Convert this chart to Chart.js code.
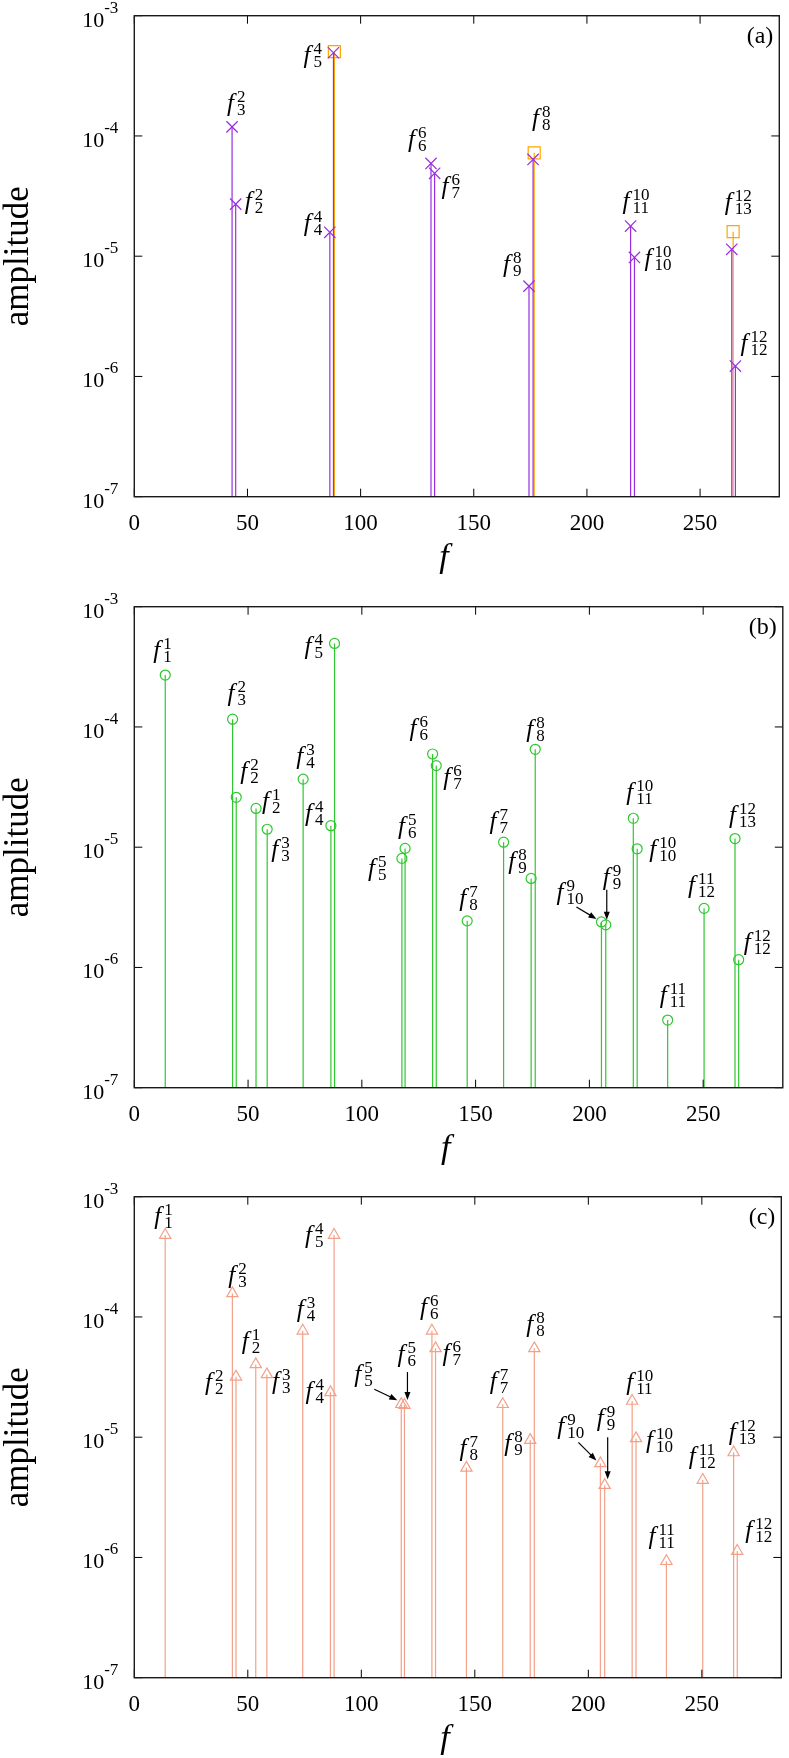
<!DOCTYPE html>
<html>
<head>
<meta charset="utf-8">
<script src="https://cdn.jsdelivr.net/npm/chart.js@4.4.1/dist/chart.umd.min.js"></script>
<style>
  body { margin: 0; background: #fff; }
  #wrap { position: relative; width: 789px; height: 1758px; }
  #wrap canvas { position: absolute; left: 0; }
</style>
</head>
<body>
<div id="wrap">
  <canvas id="graph1" width="789" height="577" style="top:0px"></canvas>
  <canvas id="graph2" width="789" height="577" style="top:591px"></canvas>
  <canvas id="graph3" width="789" height="577" style="top:1181px"></canvas>
</div>
<script>
// modes f_sub^sup, same order in every panel
const modeSub = [1, 3, 2, 2, 3, 4, 4, 5, 5, 6, 6, 7, 8, 7, 9, 8, 10, 9, 11, 10, 11, 12, 13, 12];
const modeSup = [1, 2, 2, 1, 3, 3, 4, 4, 5, 5, 6, 6, 7, 7, 8, 8, 9, 9, 10, 10, 11, 11, 12, 12];
const freqs = [13.6, 43.2, 44.8, 53.5, 58.4, 74.2, 86.4, 88.0, 117.6, 119.0, 131.1, 132.7,
               146.3, 162.3, 174.4, 176.2, 205.3, 207.2, 219.3, 221.0, 234.4, 250.4, 264.0, 265.6];

// (a) crosses (null = mode not there)
const ampA = [null, 1.19e-4, 2.71e-5, null, null, null, 1.58e-5, 4.92e-4, null, null, 5.91e-5, 4.89e-5,
              null, null, 5.64e-6, 6.38e-5, null, null, 1.78e-5, 9.77e-6, null, null, 1.14e-5, 1.22e-6];
// (a) squares
const sqFreqs = [88.4, 176.7, 264.6];
const sqAmp = [5.02e-4, 7.24e-5, 1.60e-5];
// (b) circles
const ampB = [2.70e-4, 1.16e-4, 2.60e-5, 2.10e-5, 1.41e-5, 3.68e-5, 1.51e-5, 4.95e-4, 8.07e-6, 9.77e-6, 5.96e-5, 4.77e-5,
              2.44e-6, 1.10e-5, 5.50e-6, 6.52e-5, 2.39e-6, 2.26e-6, 1.74e-5, 9.70e-6, 3.65e-7, 3.10e-6, 1.18e-5, 1.16e-6];
// (c) triangles
const ampC = [4.80e-4, 1.57e-4, 3.18e-5, 4.03e-5, 3.33e-5, 7.67e-5, 2.36e-5, 4.80e-4, 1.88e-5, 1.85e-5, 7.67e-5, 5.48e-5,
              5.56e-6, 1.88e-5, 9.46e-6, 5.48e-5, 6.05e-6, 3.99e-6, 2.00e-5, 9.77e-6, 9.3e-7, 4.40e-6, 7.46e-6, 1.13e-6];

const xTicks = [0, 50, 100, 150, 200, 250];
const yTicks = [1e-7, 1e-6, 1e-5, 1e-4, 1e-3];

// label offsets from the marker, px (left of f, baseline of f)
const offsA = {1: [-5, -16], 2: [9, 5], 6: [-26, -1], 7: [-30, 10], 10: [-23, -16], 11: [7, 21],
               14: [-26, -14], 15: [-1, -33], 18: [-8, -17], 19: [10, 9], 22: [-7, -39], 23: [5, -15]};
const offsB = {0: [-12, -17], 1: [-5, -18], 2: [4, -18], 3: [6, 1], 4: [4, 28], 5: [-7, -15], 6: [-26, -5],
               7: [-30, 11], 8: [-34, 18], 9: [-7, -14], 10: [-23, -18], 11: [7, 19], 12: [-8, -15],
               13: [-14, -13], 14: [-23, -9], 15: [-9, -12], 16: [-45, -22], 17: [-3, -40], 18: [-7, -18],
               19: [12, 8], 20: [-8, -17], 21: [-16, -15], 22: [-6, -16], 23: [5, -10]};
const offsC = {0: [-11, -11], 1: [-4, -10], 2: [-31, 13], 3: [-14, -15], 4: [5, 15], 5: [-6, -14], 6: [-25, 7],
               7: [-29, 8], 8: [-47, -22], 9: [-7, -43], 10: [-12, -16], 11: [7, 13], 12: [-7, -12],
               13: [-13, -15], 14: [-26, 11], 15: [-8, -16], 16: [-43, -29], 17: [-8, -59], 18: [-6, -11],
               19: [10, 10], 20: [-18, -17], 21: [-14, -16], 22: [-5, -13], 23: [8, -13]};
// arrows: [start offset, end offset] from marker
const arrowsB = {16: [[-25, -15], [-5, -3]], 17: [[1, -35], [1, -5]]};
const arrowsC = {8: [[-27, -15], [-4, -4]], 9: [[3, -33], [3, -5]], 16: [[-22, -21], [-4, -3]], 17: [[3, -48], [3, -6]]};

const serif = '"Liberation Serif", "Times New Roman", serif';

function impulses(xs, ys) {
    const out = [];
    xs.forEach((x, i) => {
        if (ys[i] == null) return;
        out.push({x: x, y: yTicks[0]}, {x: x, y: ys[i]}, {x: x, y: null});
    });
    return out;
}
function points(xs, ys) {
    const out = [];
    xs.forEach((x, i) => { if (ys[i] != null) out.push({x: x, y: ys[i]}); });
    return out;
}

const framePlugin = {
    id: 'frame',
    afterDatasetsDraw(chart, args, opts) {
        const ctx = chart.ctx;
        const a = chart.chartArea;
        const xs = chart.scales.x, ys = chart.scales.y;
        ctx.save();
        ctx.strokeStyle = '#000';
        ctx.lineWidth = 1;
        ctx.beginPath();
        xTicks.forEach(v => {
            const px = xs.getPixelForValue(v);
            ctx.moveTo(px, a.bottom); ctx.lineTo(px, a.bottom - 8);
            ctx.moveTo(px, a.top); ctx.lineTo(px, a.top + 8);
        });
        yTicks.forEach(v => {
            const py = ys.getPixelForValue(v);
            ctx.moveTo(a.left, py); ctx.lineTo(a.left + 8, py);
            ctx.moveTo(a.right, py); ctx.lineTo(a.right - 8, py);
        });
        ctx.stroke();
        ctx.lineWidth = 1.4;
        ctx.strokeStyle = '#1a1a1a';
        ctx.strokeRect(a.left, a.top, a.right - a.left, a.bottom - a.top);

        // y tick labels 10^n
        ctx.fillStyle = '#000';
        ctx.textBaseline = 'alphabetic';
        yTicks.forEach(v => {
            const py = ys.getPixelForValue(v);
            const ex = String(Math.round(Math.log10(v)));
            ctx.font = '17px ' + serif;
            const we = ctx.measureText(ex).width;
            const rx = a.left - 16;
            ctx.textAlign = 'right';
            ctx.fillText(ex, rx, py - 3);
            ctx.font = '22px ' + serif;
            ctx.fillText('10', rx - we, py + 11);
        });

        // panel letter
        ctx.font = '24px ' + serif;
        ctx.textAlign = 'right';
        ctx.fillText(opts.letter, a.right - 6, a.top + 27);
        ctx.restore();
    },
    afterDraw(chart, args, opts) {
        const ctx = chart.ctx;
        const xs = chart.scales.x, ys = chart.scales.y;
        ctx.save();
        ctx.fillStyle = '#000';
        ctx.strokeStyle = '#000';
        ctx.textBaseline = 'alphabetic';
        ctx.textAlign = 'left';
        Object.keys(opts.offs).forEach(k => {
            const i = +k;
            const px = xs.getPixelForValue(freqs[i]);
            const py = ys.getPixelForValue(opts.amps[i]);
            const [dx, dy] = opts.offs[k];
            const lx = px + dx, by = py + dy;
            ctx.font = 'italic 25px ' + serif;
            ctx.fillText('f', lx, by);
            ctx.font = '17px ' + serif;
            ctx.fillText(String(modeSup[i]), lx + 10, by - 9);
            ctx.fillText(String(modeSub[i]), lx + 10, by + 4);
        });
        Object.keys(opts.arrows).forEach(k => {
            const i = +k;
            const px = xs.getPixelForValue(freqs[i]);
            const py = ys.getPixelForValue(opts.amps[i]);
            const [s, e] = opts.arrows[k];
            const x0 = px + s[0], y0 = py + s[1], x1 = px + e[0], y1 = py + e[1];
            const ang = Math.atan2(y1 - y0, x1 - x0);
            ctx.lineWidth = 1.2;
            ctx.beginPath();
            ctx.moveTo(x0, y0);
            ctx.lineTo(x1 - 5 * Math.cos(ang), y1 - 5 * Math.sin(ang));
            ctx.stroke();
            ctx.beginPath();
            ctx.moveTo(x1, y1);
            ctx.lineTo(x1 - 8 * Math.cos(ang) + 3 * Math.sin(ang), y1 - 8 * Math.sin(ang) - 3 * Math.cos(ang));
            ctx.lineTo(x1 - 8 * Math.cos(ang) - 3 * Math.sin(ang), y1 - 8 * Math.sin(ang) + 3 * Math.cos(ang));
            ctx.closePath();
            ctx.fill();
        });
        ctx.restore();
    }
};

function stems(data, color, order) {
    return {data: data, showLine: true, pointRadius: 0, borderColor: color, borderWidth: 1.2,
            spanGaps: false, order: order};
}
function marks(data, color, style, radius, order) {
    return {data: data, showLine: false, pointStyle: style, pointRadius: radius, borderColor: color,
            backgroundColor: 'rgba(0,0,0,0)', borderWidth: 1.2, order: order};
}

function makeChart(id, datasets, letter, amps, offs, arrows) {
    const ctx = document.getElementById(id).getContext('2d');
    return new Chart(ctx, {
        type: 'scatter',
        data: {datasets: datasets},
        plugins: [framePlugin],
        options: {
            responsive: false,
            animation: false,
            events: [],
            layout: {padding: {top: 15.7, right: 2.3, left: 0, bottom: 0}},
            scales: {
                x: {
                    type: 'linear', min: 0, max: 285,
                    afterBuildTicks: s => { s.ticks = xTicks.map(v => ({value: v})); },
                    afterFit: s => { s.height = 80.3; },
                    grid: {display: false, drawTicks: false},
                    border: {display: false},
                    ticks: {color: '#000', padding: 13, maxRotation: 0, autoSkip: false,
                            font: {family: serif, size: 23}},
                    title: {display: true, text: 'f   ', color: '#000', padding: {top: 0, bottom: 2},
                            font: {family: serif, size: 34, style: 'italic', lineHeight: 1}}
                },
                y: {
                    type: 'logarithmic', min: 1e-7, max: 1e-3,
                    afterBuildTicks: s => { s.ticks = yTicks.map(v => ({value: v})); },
                    afterFit: s => { s.width = 134.3; },
                    grid: {display: false, drawTicks: false},
                    border: {display: false},
                    ticks: {display: false},
                    title: {display: true, text: 'amplitude', color: '#000', padding: 0,
                            font: {family: serif, size: 35, lineHeight: 1.05}}
                }
            },
            plugins: {
                legend: {display: false},
                tooltip: {enabled: false},
                frame: {letter: letter, amps: amps, offs: offs, arrows: arrows}
            }
        }
    });
}

const purple = '#9a2ee0', orange = '#ffa500', green = '#2fc72f', salmon = '#f4a088';

const chartA = makeChart('graph1', [
    marks(points(freqs, ampA), purple, 'crossRot', 8, 0),
    stems(impulses(freqs, ampA), purple, 1),
    marks(points(sqFreqs, sqAmp), orange, 'rect', 8.5, 2),
    stems(impulses(sqFreqs, sqAmp), orange, 3)
], '(a)', ampA, offsA, {});

const chartB = makeChart('graph2', [
    marks(points(freqs, ampB), green, 'circle', 5, 0),
    stems(impulses(freqs, ampB), green, 1)
], '(b)', ampB, offsB, arrowsB);

const chartC = makeChart('graph3', [
    marks(points(freqs, ampC), salmon, 'triangle', 6.5, 0),
    stems(impulses(freqs, ampC), salmon, 1)
], '(c)', ampC, offsC, arrowsC);
</script>
</body>
</html>
